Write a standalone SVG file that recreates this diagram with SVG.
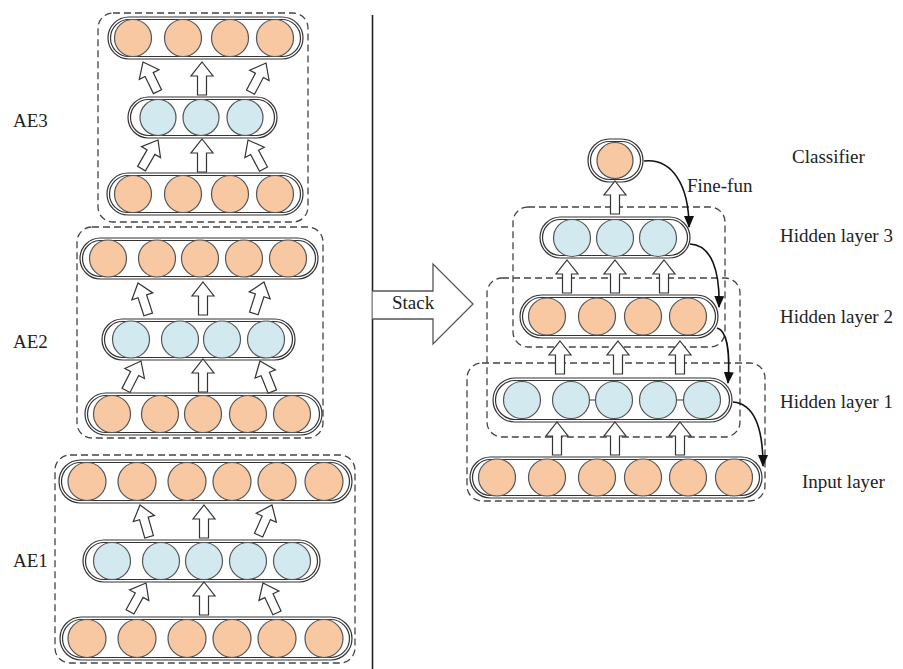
<svg xmlns="http://www.w3.org/2000/svg" xmlns:xlink="http://www.w3.org/1999/xlink" width="903" height="669" viewBox="0 0 903 669">
<style>
.cap{fill:none;stroke:#333;stroke-width:1.2}
.dash{fill:none;stroke:#444;stroke-width:1.3;stroke-dasharray:7 4}
.o{fill:#F8C8A2;stroke:#555;stroke-width:1.2}
.b{fill:#D2E9EF;stroke:#555;stroke-width:1.2}
.blk{fill:#fff;stroke:#333;stroke-width:1.2}
.cur{fill:none;stroke:#111;stroke-width:1.6}
.t{font-family:"Liberation Serif","Times New Roman",serif;font-size:19px;fill:#222}
</style>
<defs>
<path id="ba" d="M0,0 L11,14 L4.5,14 L4.5,33 L-4.5,33 L-4.5,14 L-11,14 Z" class="blk"/>
<marker id="ah" viewBox="0 0 12 10" refX="11" refY="5" markerWidth="12" markerHeight="10" markerUnits="userSpaceOnUse" orient="auto">
<path d="M0,0 L12,5 L0,10 Z" fill="#111"/>
</marker>
</defs>
<rect width="903" height="669" fill="#fff"/>

<!-- separator -->
<line x1="372.5" y1="15" x2="372.5" y2="669" stroke="#222" stroke-width="1.6"/>

<!-- AE3 -->
<g id="ae3">
<rect class="dash" x="98" y="13" width="210" height="209" rx="15"/>
<g id="ae3-out">
<rect class="cap" x="108" y="17" width="195" height="42" rx="21"/>
<rect class="cap" x="110.5" y="19.5" width="190" height="37" rx="18.5"/>
<circle class="o" cx="133" cy="38" r="18.5"/><circle class="o" cx="183" cy="38" r="18.5"/><circle class="o" cx="230" cy="38" r="18.5"/><circle class="o" cx="275" cy="38" r="18.5"/>
</g>
<g id="ae3-hid">
<rect class="cap" x="128" y="97" width="149" height="41" rx="20.5"/>
<rect class="cap" x="130.5" y="99.5" width="144" height="36" rx="18"/>
<circle class="b" cx="158" cy="117.5" r="18"/><circle class="b" cx="201" cy="117.5" r="18"/><circle class="b" cx="245" cy="117.5" r="18"/>
</g>
<g id="ae3-in">
<rect class="cap" x="107" y="173" width="196" height="42" rx="21"/>
<rect class="cap" x="109.5" y="175.5" width="191" height="37" rx="18.5"/>
<circle class="o" cx="133" cy="194" r="18.5"/><circle class="o" cx="183" cy="194" r="18.5"/><circle class="o" cx="230" cy="194" r="18.5"/><circle class="o" cx="275" cy="194" r="18.5"/>
</g>
</g>

<!-- AE2 -->
<g id="ae2">
<rect class="dash" x="77" y="227" width="246" height="211" rx="15"/>
<g id="ae2-out">
<rect class="cap" x="80" y="238" width="238" height="41" rx="20.5"/>
<rect class="cap" x="82.5" y="240.5" width="233" height="36" rx="18"/>
<circle class="o" cx="108" cy="258.5" r="18.5"/><circle class="o" cx="157" cy="258.5" r="18.5"/><circle class="o" cx="200" cy="258.5" r="18.5"/><circle class="o" cx="244" cy="258.5" r="18.5"/><circle class="o" cx="288" cy="258.5" r="18.5"/>
</g>
<g id="ae2-hid">
<rect class="cap" x="102" y="319" width="193" height="41" rx="20.5"/>
<rect class="cap" x="104.5" y="321.5" width="188" height="36" rx="18"/>
<circle class="b" cx="131" cy="339.5" r="18.5"/><circle class="b" cx="180" cy="339.5" r="18.5"/><circle class="b" cx="222" cy="339.5" r="18.5"/><circle class="b" cx="266" cy="339.5" r="18.5"/>
</g>
<g id="ae2-in">
<rect class="cap" x="85" y="393" width="237" height="42" rx="21"/>
<rect class="cap" x="87.5" y="395.5" width="232" height="37" rx="18.5"/>
<circle class="o" cx="112" cy="414" r="18.5"/><circle class="o" cx="160" cy="414" r="18.5"/><circle class="o" cx="203" cy="414" r="18.5"/><circle class="o" cx="248" cy="414" r="18.5"/><circle class="o" cx="292" cy="414" r="18.5"/>
</g>
</g>

<!-- AE1 -->
<g id="ae1">
<rect class="dash" x="55" y="455" width="300" height="208" rx="15"/>
<g id="ae1-out">
<rect class="cap" x="59" y="460" width="293" height="43" rx="21.5"/>
<rect class="cap" x="61.5" y="462.5" width="288" height="38" rx="19"/>
<circle class="o" cx="87" cy="481.5" r="19"/><circle class="o" cx="137" cy="481.5" r="19"/><circle class="o" cx="187" cy="481.5" r="19"/><circle class="o" cx="232" cy="481.5" r="19"/><circle class="o" cx="277" cy="481.5" r="19"/><circle class="o" cx="324" cy="481.5" r="19"/>
</g>
<g id="ae1-hid">
<rect class="cap" x="83" y="540" width="237" height="42" rx="21"/>
<rect class="cap" x="85.5" y="542.5" width="232" height="37" rx="18.5"/>
<circle class="b" cx="112" cy="561" r="18.5"/><circle class="b" cx="161" cy="561" r="18.5"/><circle class="b" cx="204" cy="561" r="18.5"/><circle class="b" cx="248" cy="561" r="18.5"/><circle class="b" cx="292" cy="561" r="18.5"/>
</g>
<g id="ae1-in">
<rect class="cap" x="60" y="617" width="292" height="43" rx="21.5"/>
<rect class="cap" x="62.5" y="619.5" width="287" height="38" rx="19"/>
<circle class="o" cx="87" cy="638.5" r="19"/><circle class="o" cx="137" cy="638.5" r="19"/><circle class="o" cx="187" cy="638.5" r="19"/><circle class="o" cx="232" cy="638.5" r="19"/><circle class="o" cx="277" cy="638.5" r="19"/><circle class="o" cx="324" cy="638.5" r="19"/>
</g>
</g>

<!-- Stacked network -->
<g id="stacked">
<rect class="dash" x="513" y="207" width="212" height="140" rx="15"/>
<rect class="dash" x="487" y="278" width="253" height="159" rx="15"/>
<rect class="dash" x="467" y="363" width="298" height="138" rx="15"/>
<g id="classifier">
<rect class="cap" x="588" y="139" width="55" height="43" rx="21.5"/>
<rect class="cap" x="590.5" y="141.5" width="50" height="38" rx="19"/>
<circle class="o" cx="615" cy="160.5" r="18"/>
</g>
<g id="hidden3">
<rect class="cap" x="540" y="217" width="150" height="41" rx="20.5"/>
<rect class="cap" x="542.5" y="219.5" width="145" height="36" rx="18"/>
<circle class="b" cx="572" cy="238" r="18.5"/><circle class="b" cx="615" cy="238" r="18.5"/><circle class="b" cx="658" cy="238" r="18.5"/>
</g>
<g id="hidden2">
<rect class="cap" x="520" y="295" width="198" height="43" rx="21.5"/>
<rect class="cap" x="522.5" y="297.5" width="193" height="38" rx="19"/>
<circle class="o" cx="547" cy="316.5" r="18.5"/><circle class="o" cx="597" cy="316.5" r="18.5"/><circle class="o" cx="643" cy="316.5" r="18.5"/><circle class="o" cx="688" cy="316.5" r="18.5"/>
</g>
<g id="hidden1">
<rect class="cap" x="493" y="378" width="239" height="44" rx="22"/>
<rect class="cap" x="495.5" y="380.5" width="234" height="39" rx="19.5"/>
<line x1="589" y1="400" x2="596" y2="400" stroke="#555" stroke-width="1.2"/>
<line x1="676" y1="400" x2="684" y2="400" stroke="#555" stroke-width="1.2"/>
<circle class="b" cx="522" cy="400" r="18.5"/><circle class="b" cx="571" cy="400" r="18.5"/><circle class="b" cx="614" cy="400" r="18.5"/><circle class="b" cx="658" cy="400" r="18.5"/><circle class="b" cx="702" cy="400" r="18.5"/>
</g>
<g id="input">
<rect class="cap" x="470" y="457" width="292" height="41" rx="20.5"/>
<rect class="cap" x="472.5" y="459.5" width="287" height="36" rx="18"/>
<circle class="o" cx="497" cy="477.5" r="18.5"/><circle class="o" cx="547" cy="477.5" r="18.5"/><circle class="o" cx="597" cy="477.5" r="18.5"/><circle class="o" cx="643" cy="477.5" r="18.5"/><circle class="o" cx="688" cy="477.5" r="18.5"/><circle class="o" cx="734" cy="477.5" r="18.5"/>
</g>
</g>

<!-- connectors -->
<g id="connectors">
<!-- AE3 -->
<use xlink:href="#ba" transform="translate(143,62) rotate(-26)"/>
<use xlink:href="#ba" transform="translate(202,62)"/>
<use xlink:href="#ba" transform="translate(266,63) rotate(28)"/>
<use xlink:href="#ba" transform="translate(158,140) rotate(30)"/>
<use xlink:href="#ba" transform="translate(202,139)"/>
<use xlink:href="#ba" transform="translate(248,140) rotate(-28)"/>
<!-- AE2 -->
<use xlink:href="#ba" transform="translate(138,283) rotate(-18)"/>
<use xlink:href="#ba" transform="translate(203,282)"/>
<use xlink:href="#ba" transform="translate(264,282) rotate(18)"/>
<use xlink:href="#ba" transform="translate(141,361) rotate(27)"/>
<use xlink:href="#ba" transform="translate(203,359)"/>
<use xlink:href="#ba" transform="translate(260,361) rotate(-22)"/>
<!-- AE1 -->
<use xlink:href="#ba" transform="translate(140,505) rotate(-16)"/>
<use xlink:href="#ba" transform="translate(204,505)"/>
<use xlink:href="#ba" transform="translate(272,505) rotate(24)"/>
<use xlink:href="#ba" transform="translate(146,583) rotate(29)"/>
<use xlink:href="#ba" transform="translate(204,582)"/>
<use xlink:href="#ba" transform="translate(263,583) rotate(-25)"/>
<!-- stacked -->
<use xlink:href="#ba" transform="translate(615,181)"/>
<use xlink:href="#ba" transform="translate(567,260)"/>
<use xlink:href="#ba" transform="translate(615,260)"/>
<use xlink:href="#ba" transform="translate(664,260)"/>
<use xlink:href="#ba" transform="translate(560,341)"/>
<use xlink:href="#ba" transform="translate(618,341)"/>
<use xlink:href="#ba" transform="translate(680,341)"/>
<use xlink:href="#ba" transform="translate(557,422)"/>
<use xlink:href="#ba" transform="translate(615,422)"/>
<use xlink:href="#ba" transform="translate(680,422)"/>
<!-- Stack arrow -->
<path d="M372.5,291 L433,291 L433,264 L473,304 L433,344 L433,319 L372.5,319" fill="#fff" stroke="#555" stroke-width="1.3"/>
<!-- fine-tuning curves -->
<path class="cur" marker-end="url(#ah)" d="M644,161 C672,158 689,185 689,227"/>
<path class="cur" marker-end="url(#ah)" d="M690,244 C712,245 720,272 719,307"/>
<path class="cur" marker-end="url(#ah)" d="M717,328 C728,331 730,356 728,383"/>
<path class="cur" marker-end="url(#ah)" d="M733,402 C756,404 763,432 763,466"/>
</g>

<!-- labels -->
<g id="labels">
<text class="t" x="13" y="127">AE3</text>
<text class="t" x="13" y="348">AE2</text>
<text class="t" x="13" y="567">AE1</text>
<text class="t" x="392" y="309">Stack</text>
<text class="t" x="792" y="163">Classifier</text>
<text class="t" x="687" y="192">Fine-fun</text>
<text class="t" x="780" y="242">Hidden layer 3</text>
<text class="t" x="780" y="323">Hidden layer 2</text>
<text class="t" x="780" y="408">Hidden layer 1</text>
<text class="t" x="802" y="488">Input layer</text>
</g>
</svg>
